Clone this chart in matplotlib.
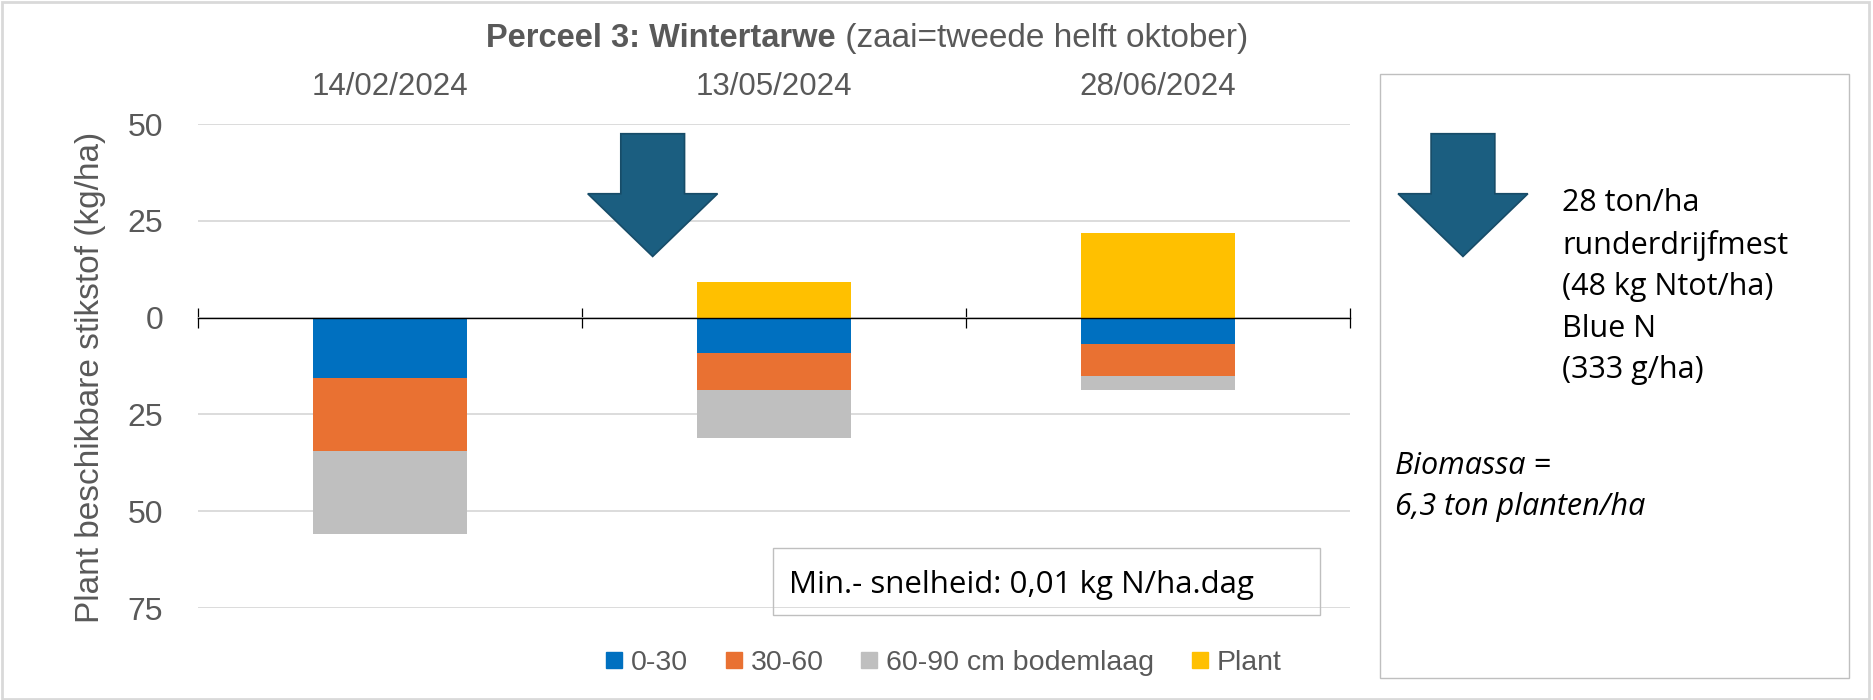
import matplotlib.pyplot as plt
from matplotlib.patches import Polygon, Rectangle
from matplotlib.lines import Line2D
from matplotlib.ticker import FuncFormatter

# data (kg N/ha), soil layers shown below zero, plant uptake above zero
dates = ["14/02/2024", "13/05/2024", "28/06/2024"]
layer_0_30 = [15.7, 9.1, 6.9]
layer_30_60 = [18.7, 9.7, 8.1]
layer_60_90 = [21.5, 12.4, 3.8]
plant = [0.0, 9.1, 21.9]
series_names = ["0-30", "30-60", "60-90 cm bodemlaag", "Plant"]
colors = ["#0070C0", "#E97132", "#BFBFBF", "#FFC000"]

title_bold = "Perceel 3: Wintertarwe"
title_rest = " (zaai=tweede helft oktober)"
note_text = "Min.- snelheid: 0,01 kg N/ha.dag"
box_text = "28 ton/ha\nrunderdrijfmest\n(48 kg Ntot/ha)\nBlue N\n(333 g/ha)"
biomass_text = "Biomassa =\n6,3 ton planten/ha"

GREY = "#595959"
ARROW = "#1B5E80"

plt.rcParams['font.family'] = ['Liberation Sans', 'DejaVu Sans']

fig = plt.figure(figsize=(18.73, 7.0), dpi=100)
ax = fig.add_axes([0.1057, 0.1314, 0.6151, 0.6914])

x = list(range(len(dates)))
width = 0.4
# stack the soil layers downwards
bottom = [0.0] * len(dates)
for vals, c in zip([layer_0_30, layer_30_60, layer_60_90], colors[:3]):
    neg = [-v for v in vals]
    ax.bar(x, neg, width, bottom=bottom, color=c, zorder=2)
    bottom = [b + n for b, n in zip(bottom, neg)]
ax.bar(x, plant, width, color=colors[3], zorder=2)

ax.set_xlim(-0.5, 2.5)
ax.set_ylim(-75, 50)
ax.set_yticks([50, 25, 0, -25, -50, -75])
ax.yaxis.set_major_formatter(FuncFormatter(lambda v, p: f"{abs(v):.0f}"))
ax.tick_params(axis='y', length=0, labelsize=23, labelcolor=GREY, pad=25)
ax.yaxis.grid(True, color="#D9D9D9", lw=1.3, zorder=0)
ax.set_axisbelow(True)

for s in ["top", "right", "left"]:
    ax.spines[s].set_visible(False)
ax.spines["bottom"].set_position(("data", 0))
ax.spines["bottom"].set_color("black")
ax.spines["bottom"].set_linewidth(1.0)
ax.spines["bottom"].set_zorder(3)

ax.set_xticks([-0.5, 0.5, 1.5, 2.5])
ax.tick_params(axis='x', which='major', direction='inout', length=15, width=0.9,
               labelbottom=False)
ax.set_xticks(x, minor=True)
ax.set_xticklabels(dates, minor=True)
ax.tick_params(axis='x', which='minor', length=0, bottom=False, top=False,
               labelbottom=False, labeltop=True, labelsize=22.5, labelcolor=GREY, pad=16)

ax.set_ylabel("Plant beschikbare stikstof (kg/ha)", fontsize=24, color=GREY)
ax.yaxis.set_label_coords(-0.080, 0.477)


def draw_arrow(xc):
    shaft, head = 0.083, 0.169
    top, neck, tip = 47.5, 32.0, 15.8
    pts = [(xc - shaft, top), (xc + shaft, top), (xc + shaft, neck), (xc + head, neck),
           (xc, tip), (xc - head, neck), (xc - shaft, neck)]
    ax.add_patch(Polygon(pts, closed=True, facecolor=ARROW, edgecolor="#174C68",
                         lw=1.2, zorder=4, clip_on=False))


draw_arrow(0.684)
draw_arrow(2.794)

# title: bold part + regular part
fig.text(0.4463, 0.945, title_bold, ha='right', va='center', fontsize=23.5,
         fontweight='bold', color=GREY)
fig.text(0.4463, 0.945, title_rest, ha='left', va='center', fontsize=24, color=GREY)

# note box
fig.patches.append(Rectangle((773 / 1873, 1 - 615 / 700), 547 / 1873, 67 / 700,
                             transform=fig.transFigure, fill=False, ec="#BFBFBF", lw=1))
fig.text(789 / 1873, 1 - 585 / 700, note_text, ha='left', va='center', fontsize=22.5,
         color='black', family=['Open Sans', 'DejaVu Sans'])

# right info box
fig.patches.append(Rectangle((1380 / 1873, 1 - 678 / 700), 469 / 1873, 604 / 700,
                             transform=fig.transFigure, fill=False, ec="#BFBFBF", lw=1))
fig.text(1562 / 1873, 1 - 286.5 / 700, box_text, ha='left', va='center', fontsize=22,
         color='black', linespacing=1.5, family=['Open Sans', 'DejaVu Sans'])
fig.text(1395 / 1873, 1 - 486.5 / 700, biomass_text, ha='left', va='center', fontsize=22,
         color='black', style='italic', linespacing=1.5, family=['Open Sans', 'DejaVu Sans'])

# outer border
fig.patches.append(Rectangle((0.001, 0.002), 0.997, 0.995, transform=fig.transFigure,
                             fill=False, ec="#D9D9D9", lw=2))

handles = [Line2D([], [], marker='s', ls='', color=c, markersize=11) for c in colors]
fig.legend(handles, series_names, loc='center', bbox_to_anchor=(0.503, 0.053), ncol=4,
           frameon=False, fontsize=20.5, handletextpad=0.2, columnspacing=1.2,
           labelcolor=GREY, handlelength=0.8)

fig.savefig("out.png", dpi=100)
